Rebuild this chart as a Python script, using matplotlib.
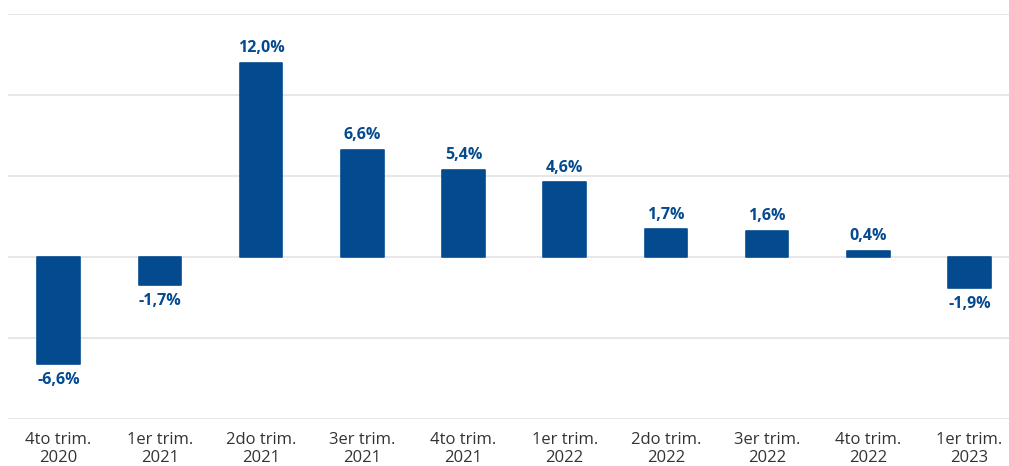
import matplotlib
matplotlib.use("Agg")
import matplotlib.pyplot as plt

categories = ["4to trim.\n2020", "1er trim.\n2021", "2do trim.\n2021", "3er trim.\n2021",
              "4to trim.\n2021", "1er trim.\n2022", "2do trim.\n2022", "3er trim.\n2022",
              "4to trim.\n2022", "1er trim.\n2023"]
values = [-6.6, -1.7, 12.0, 6.6, 5.4, 4.6, 1.7, 1.6, 0.4, -1.9]

plt.rcParams['font.family'] = ['Open Sans', 'DejaVu Sans']
blue = "#044a8f"

fig = plt.figure(figsize=(10.09, 4.66), dpi=100)
ax = fig.add_axes([8/1009, 47/466, 1001/1009, 405/466])
x = list(range(len(values)))
ax.bar(x, values, width=0.42, color=blue, edgecolor=blue, linewidth=1.2,
       joinstyle='round', zorder=3)
for xi, v in zip(x, values):
    lbl = f"{v:.1f}%".replace(".", ",")
    if v >= 0:
        ax.annotate(lbl, (xi, v), xytext=(0, 5), textcoords="offset points",
                    ha="center", va="bottom", color=blue, fontsize=11.5, fontweight="bold")
    else:
        ax.annotate(lbl, (xi, v), xytext=(0, -6), textcoords="offset points",
                    ha="center", va="top", color=blue, fontsize=11.5, fontweight="bold")

ax.set_ylim(-10, 15)
ax.set_xlim(-0.5, 9.39)
ax.set_yticks([-10, -5, 0, 5, 10, 15])
ax.yaxis.grid(True, color="#e3e3e3", linewidth=1.2, zorder=0)
ax.tick_params(axis='y', left=False, labelleft=False)
ax.set_xticks(x)
ax.set_xticklabels(categories, fontsize=12, color="#333333", linespacing=1.2)
ax.tick_params(axis='x', length=0, pad=9)
for s in ax.spines.values():
    s.set_visible(False)

fig.savefig("out.png", dpi=100)
